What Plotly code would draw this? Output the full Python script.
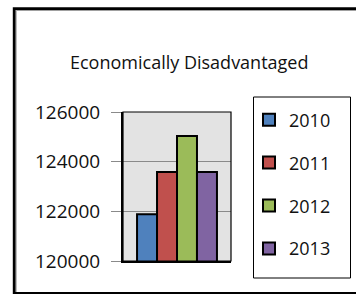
import plotly.graph_objects as go

# ---- data ----
category = ["Economically Disadvantaged"]
years = ["2010", "2011", "2012", "2013"]
values = [121880, 123580, 125030, 123580]
colors = ["#4F81BD", "#C0504D", "#9BBB59", "#8064A2"]
y_ticks = [120000, 122000, 124000, 126000]
title_text = "Economically Disadvantaged"

W, H = 356, 294
L, R, T, B = 123, 231, 112, 261  # plot area in px


def px(x):
    return (x - L) / (R - L)


def py(y):
    return (B - y) / (B - T)


FONT = "Open Sans"

fig = go.Figure()
for yr, v, c in zip(years, values, colors):
    fig.add_trace(go.Bar(
        x=category, y=[v], name=yr, legendgroup=yr,
        marker=dict(color=c, line=dict(color="black", width=2)),
    ))

fig.update_layout(
    width=W, height=H,
    margin=dict(l=L, r=W - R, t=T, b=H - B),
    paper_bgcolor="white",
    plot_bgcolor="#E3E3E3",
    barmode="group", bargap=0.26, bargroupgap=0,
    font=dict(family=FONT, size=18, color="#111111"),
    showlegend=True,
    legend=dict(
        x=px(249), y=py(101.5), xanchor="left", yanchor="top",
        bgcolor="rgba(0,0,0,0)", borderwidth=0,
        tracegroupgap=16.5, font=dict(size=18),
        maxheight=400,
    ),
    xaxis=dict(showticklabels=False, showgrid=False, zeroline=False,
               showline=True, linecolor="black", linewidth=2, ticks=""),
    yaxis=dict(range=[120000, 126000], tickvals=y_ticks,
               ticktext=[str(t) for t in y_ticks],
               tickfont=dict(size=19),
               showgrid=True, gridcolor="#8A8A8A", gridwidth=1,
               zeroline=False, showline=True, linecolor="black", linewidth=2,
               ticks="outside", ticklen=10, tickcolor="#8A8A8A", tickwidth=1,
               ticklabelstandoff=7),
)

shapes = [
    # plot area border
    dict(type="rect", xref="paper", yref="paper", x0=0, x1=1, y0=0, y1=1,
         line=dict(color="black", width=1.2), layer="above"),
    # legend box
    dict(type="rect", xref="paper", yref="paper", x0=px(253.5), x1=px(350.5),
         y0=py(278), y1=py(97), line=dict(color="black", width=1)),
    # outer chart border (gray inner shade)
    dict(type="path", xref="paper", yref="paper",
         path=f"M {px(16.2)} {py(300)} L {px(16.2)} {py(10.5)} L {px(370)} {py(10.5)}",
         line=dict(color="#A0A0A0", width=1)),
    # outer chart border
    dict(type="path", xref="paper", yref="paper",
         path=f"M {px(370)} {py(293.3)} L {px(14.2)} {py(293.3)} L {px(14.2)} {py(8.7)} L {px(370)} {py(8.7)}",
         line=dict(color="black", width=2.8)),
]
fig.update_layout(shapes=shapes)

fig.add_annotation(text=title_text, xref="paper", yref="paper",
                   x=px(188.5), y=py(62), xanchor="center", yanchor="middle",
                   showarrow=False, font=dict(family=FONT, size=18, color="#111111"))

fig.write_html("out.html",
               config={"displayModeBar": False},
               post_script="document.body.style.margin='0';document.body.style.overflow='hidden';")
